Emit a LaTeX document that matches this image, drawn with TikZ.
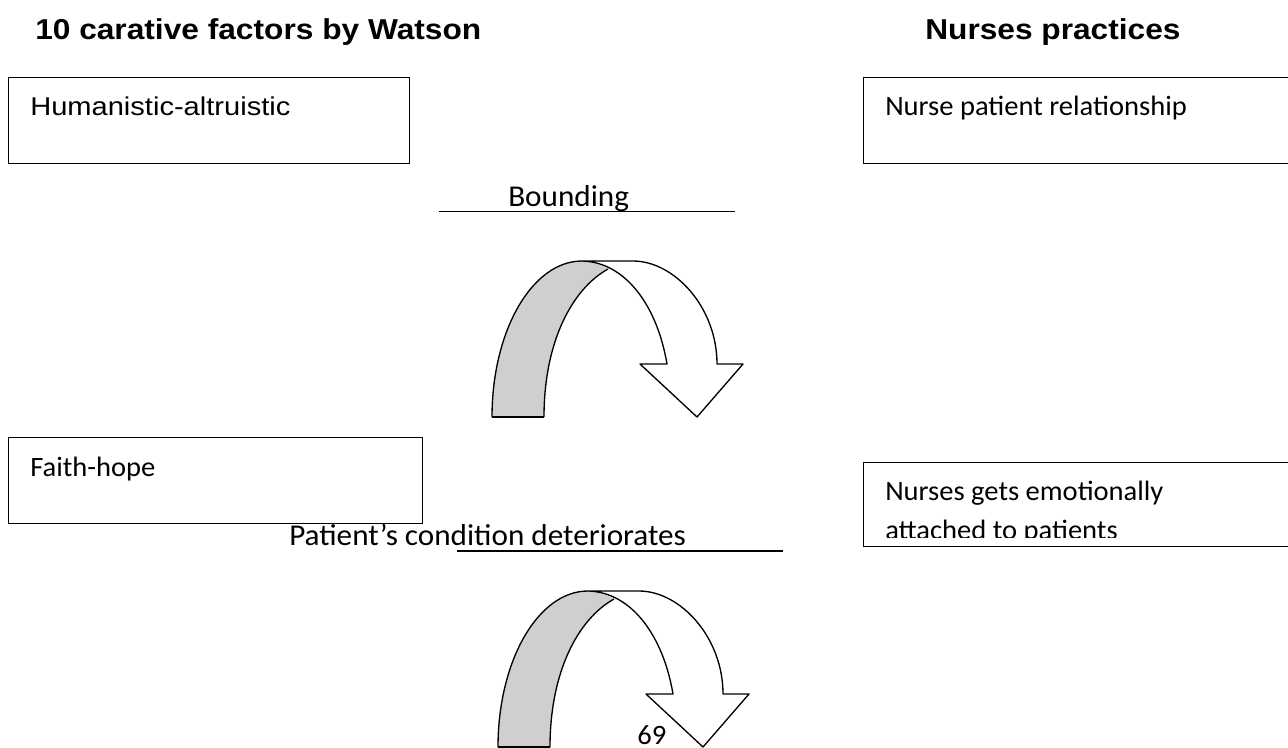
\documentclass[tikz,border=0pt]{standalone}
\usepackage{fontspec}
\setmainfont{Carlito}
\newfontfamily\arialfont{Liberation Sans}
\usepackage{graphicx}
\newcommand\hsA[1]{\scalebox{1.13}[1]{#1}}
\newcommand\hsT[1]{\scalebox{1.1}[1]{#1}}
\newcommand\hsC[1]{\scalebox{1.02}[1]{#1}}
\newcommand\hsL[1]{\scalebox{1.03}[1]{#1}}
\tikzset{
  box/.style={draw=black, line width=1.1pt, inner sep=0pt, anchor=north west},
  txt/.style={anchor=base west, inner sep=0pt, font=\fontsize{21}{25}\selectfont},
  ltxt/.style={anchor=base west, inner sep=0pt, font=\fontsize{22.7}{27}\selectfont},
  atxt/.style={anchor=base west, inner sep=0pt, font=\fontsize{19.3}{23}\arialfont},
  ttl/.style={anchor=base west, inner sep=0pt, font=\fontsize{21.6}{26}\arialfont\bfseries},
  uline/.style={line width=1pt},
  band/.style={draw=black, line width=1pt, line join=round},
  uarrow/.pic={
    \fill[fill=gray!38] (0,0) .. controls (0,-86) and (40,-156) .. (90,-156)
      .. controls (100,-156) and (110,-152) .. (116,-148)
      .. controls (80,-128) and (52,-75) .. (52,0) -- cycle;
    \draw[band] (0,0) .. controls (0,-86) and (40,-156) .. (90,-156);
    \draw[band] (116,-148) .. controls (80,-128) and (52,-75) .. (52,0);
    \draw[band] (0,0) -- (52,0);
    \draw[band, fill=white] (90,-156) -- (141,-156)
      .. controls (182,-156) and (225,-110) .. (225,-53)
      -- (251,-53) -- (205,0) -- (148,-53) -- (175,-53)
      .. controls (165,-112) and (133,-155) .. (90,-156) -- cycle;
  }
}
\begin{document}
\begin{tikzpicture}[x=0.75pt,y=-0.75pt]
\useasboundingbox (0,0) rectangle (1288,747);
\clip (0,0) rectangle (1288,747);
% titles
\node[ttl] (t1) at (35,39) {\hsT{10 carative factors by Watson}};
\node[ttl] (t2) at (925,39) {\hsT{Nurses practices}};
% boxes
\node[box, minimum width=300.75pt, minimum height=64.5pt] (b1) at (8,77) {};
\node[atxt] (b1t) at (30,115) {\hsA{Humanistic-altruistic}};
\node[box, minimum width=330pt, minimum height=64.5pt] (b2) at (863,77) {};
\node[txt] (b2t) at (885,115) {\hsC{Nurse patient relationship}};
\node[box, minimum width=310.5pt, minimum height=64.5pt] (b3) at (8,437) {};
\node[txt] (b3t) at (30,476) {\hsC{Faith-hope}};
\node[box, minimum width=330pt, minimum height=63pt] (b4) at (863,462) {};
\node[txt] (b4t) at (885,500) {\hsC{Nurses gets emotionally}};
\begin{scope}
\clip (864,462) rectangle (1300,537);
\node[txt] (b4u) at (885,539) {\hsC{attached to patients}};
\end{scope}
% labels with underlines
\node[ltxt] (l1) at (508,206) {\hsL{Bounding}};
\coordinate (u1a) at (439,211.5);
\coordinate (u1b) at (735,211.5);
\draw[uline] (u1a) -- (u1b);
\node[ltxt] (l2) at (289,545) {\hsL{Patient’s condition deteriorates}};
\coordinate (u2a) at (457,551);
\coordinate (u2b) at (783,551);
\draw[uline] (u2a) -- (u2b);
% curved arrows
\pic at (492,417) {uarrow};
\pic at (498,747) {uarrow};
% page number
\node[txt] (pg) at (637,744) {\hsC{69}};
\end{tikzpicture}
\end{document}
